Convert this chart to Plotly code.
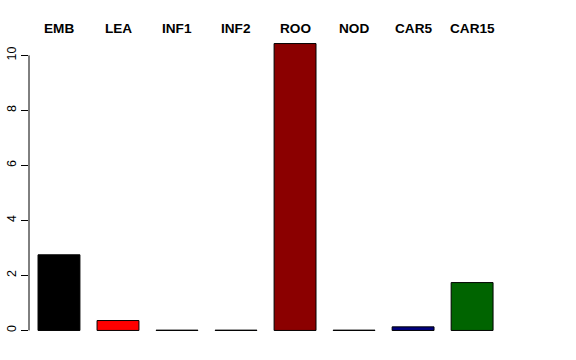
import plotly.graph_objects as go

categories = ["EMB", "LEA", "INF1", "INF2", "ROO", "NOD", "CAR5", "CAR15"]
values = [2.75, 0.36, 0.01, 0.01, 10.43, 0.01, 0.13, 1.74]
colors = ["#000000", "#FF0000", "#006400", "#00008B", "#8B0000", "#800080", "#000080", "#006400"]
y_ticks = [0, 2, 4, 6, 8, 10]

xpos = list(range(len(categories)))

fig = go.Figure()
fig.add_trace(go.Bar(
    x=xpos, y=values, width=0.71,
    marker=dict(color=colors, line=dict(color="#000000", width=1)),
    hoverinfo="skip",
))

for xp, cat in zip(xpos, categories):
    fig.add_annotation(x=xp, y=1, xref="x", yref="paper", text="<b>" + cat + "</b>",
                       showarrow=False, yanchor="middle", xanchor="center", yshift=4,
                       font=dict(family="Liberation Sans, Arial, sans-serif", size=13.6, color="#000000"))

# R-style y axis line spanning only the tick range
fig.add_shape(type="line", xref="paper", yref="y", x0=0, x1=0, y0=0, y1=10,
              line=dict(color="#000000", width=1))

fig.update_layout(
    width=576, height=360,
    margin=dict(l=29, r=26, t=32, b=18),
    paper_bgcolor="white", plot_bgcolor="white",
    showlegend=False,
    font=dict(family="Liberation Sans, Arial, sans-serif", size=12, color="#000000"),
    xaxis=dict(range=[-0.508, 8.32], showgrid=False, zeroline=False, showline=False,
               showticklabels=False, ticks="", automargin=False),
    yaxis=dict(range=[-0.42, 10.85], tickvals=y_ticks, ticktext=[str(v) for v in y_ticks],
               showgrid=False, zeroline=False, showline=False, automargin=False,
               ticks="outside", ticklen=7, tickcolor="#000000", tickangle=-90,
               tickfont=dict(size=12.5, color="#000000")),
)

fig.write_html("out.html")
